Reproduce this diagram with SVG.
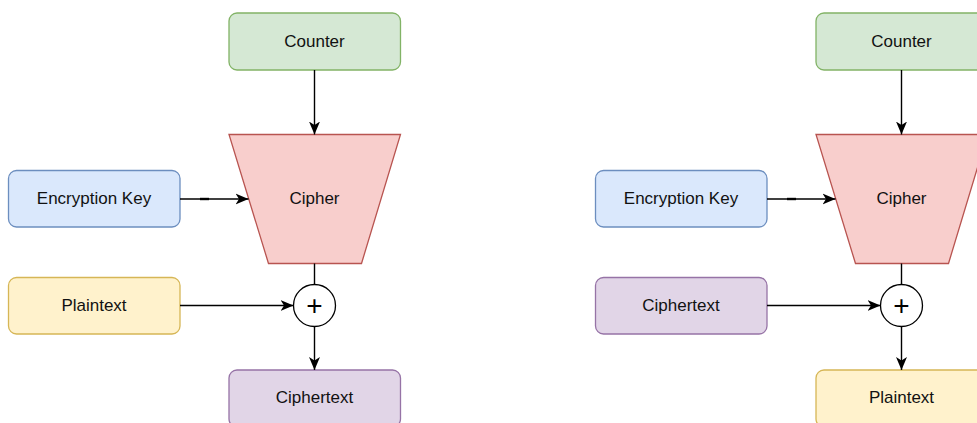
<svg xmlns="http://www.w3.org/2000/svg" width="977" height="423" viewBox="0 0 977 423">
  <style>
    .lbl { font-family: "Liberation Sans", Arial, sans-serif; font-size: 17px; fill: #111; text-anchor: middle; }
    .plus { font-family: "Liberation Sans", Arial, sans-serif; font-size: 28px; fill: #000; text-anchor: middle; }
    .green { fill: #d5e8d4; stroke: #82b366; stroke-width: 1.3; }
    .red { fill: #f8cecc; stroke: #b85450; stroke-width: 1.3; }
    .blue { fill: #dae8fc; stroke: #6c8ebf; stroke-width: 1.3; }
    .yellow { fill: #fff2cc; stroke: #d6b656; stroke-width: 1.3; }
    .purple { fill: #e1d5e7; stroke: #9673a6; stroke-width: 1.3; }
    .xor { fill: #fff; stroke: #000; stroke-width: 1.3; }
    .edge { fill: none; stroke: #000; stroke-width: 1.4; }
  </style>
  <defs>
    <marker id="arrow" markerUnits="userSpaceOnUse" markerWidth="14" markerHeight="12" viewBox="0 0 14 12" refX="13" refY="6" orient="auto">
      <path d="M0,0.5 L13,6 L0,11.5 L3.5,6 Z" fill="#000"/>
    </marker>
  </defs>

  <!-- Encryption (CTR mode) -->
  <g id="enc">
    <g id="enc-counter">
      <rect class="green" x="229" y="13" width="171.5" height="57" rx="8"/>
      <text class="lbl" x="314.5" y="46.5">Counter</text>
    </g>
    <g id="enc-cipher">
      <polygon class="red" points="229,134.5 400.5,134.5 361.5,263.5 268.5,263.5"/>
      <text class="lbl" x="314.5" y="204">Cipher</text>
    </g>
    <g id="enc-key">
      <rect class="blue" x="8.5" y="170.5" width="171.5" height="56.5" rx="8"/>
      <text class="lbl" x="94" y="203.5">Encryption Key</text>
    </g>
    <g id="enc-plaintext">
      <rect class="yellow" x="8.5" y="277.5" width="171.5" height="56.5" rx="8"/>
      <text class="lbl" x="94" y="310.5">Plaintext</text>
    </g>
    <g id="enc-xor">
      <circle class="xor" cx="314.5" cy="305.5" r="21"/>
      <text class="plus" x="314.5" y="314.5">+</text>
    </g>
    <g id="enc-ciphertext">
      <rect class="purple" x="229" y="370" width="171.5" height="57" rx="8"/>
      <text class="lbl" x="314.5" y="403">Ciphertext</text>
    </g>
    <g id="enc-connectors">
      <line class="edge" x1="314.5" y1="70" x2="314.5" y2="134.5" marker-end="url(#arrow)"/>
      <line class="edge" x1="180" y1="199" x2="248.5" y2="199" marker-end="url(#arrow)"/>
      <rect x="200" y="197.8" width="9" height="2.4" fill="#000"/>
      <line class="edge" x1="314.5" y1="263.5" x2="314.5" y2="284.5"/>
      <line class="edge" x1="180" y1="305.5" x2="293.5" y2="305.5" marker-end="url(#arrow)"/>
      <line class="edge" x1="314.5" y1="326.5" x2="314.5" y2="370" marker-end="url(#arrow)"/>
    </g>
  </g>

  <!-- Decryption (CTR mode) -->
  <g id="dec" transform="translate(587,0)">
    <g id="dec-counter">
      <rect class="green" x="229" y="13" width="171.5" height="57" rx="8"/>
      <text class="lbl" x="314.5" y="46.5">Counter</text>
    </g>
    <g id="dec-cipher">
      <polygon class="red" points="229,134.5 400.5,134.5 361.5,263.5 268.5,263.5"/>
      <text class="lbl" x="314.5" y="204">Cipher</text>
    </g>
    <g id="dec-key">
      <rect class="blue" x="8.5" y="170.5" width="171.5" height="56.5" rx="8"/>
      <text class="lbl" x="94" y="203.5">Encryption Key</text>
    </g>
    <g id="dec-ciphertext">
      <rect class="purple" x="8.5" y="277.5" width="171.5" height="56.5" rx="8"/>
      <text class="lbl" x="94" y="310.5">Ciphertext</text>
    </g>
    <g id="dec-xor">
      <circle class="xor" cx="314.5" cy="305.5" r="21"/>
      <text class="plus" x="314.5" y="314.5">+</text>
    </g>
    <g id="dec-plaintext">
      <rect class="yellow" x="229" y="370" width="171.5" height="57" rx="8"/>
      <text class="lbl" x="314.5" y="403">Plaintext</text>
    </g>
    <g id="dec-connectors">
      <line class="edge" x1="314.5" y1="70" x2="314.5" y2="134.5" marker-end="url(#arrow)"/>
      <line class="edge" x1="180" y1="199" x2="248.5" y2="199" marker-end="url(#arrow)"/>
      <rect x="200" y="197.8" width="9" height="2.4" fill="#000"/>
      <line class="edge" x1="314.5" y1="263.5" x2="314.5" y2="284.5"/>
      <line class="edge" x1="180" y1="305.5" x2="293.5" y2="305.5" marker-end="url(#arrow)"/>
      <line class="edge" x1="314.5" y1="326.5" x2="314.5" y2="370" marker-end="url(#arrow)"/>
    </g>
  </g>
</svg>
